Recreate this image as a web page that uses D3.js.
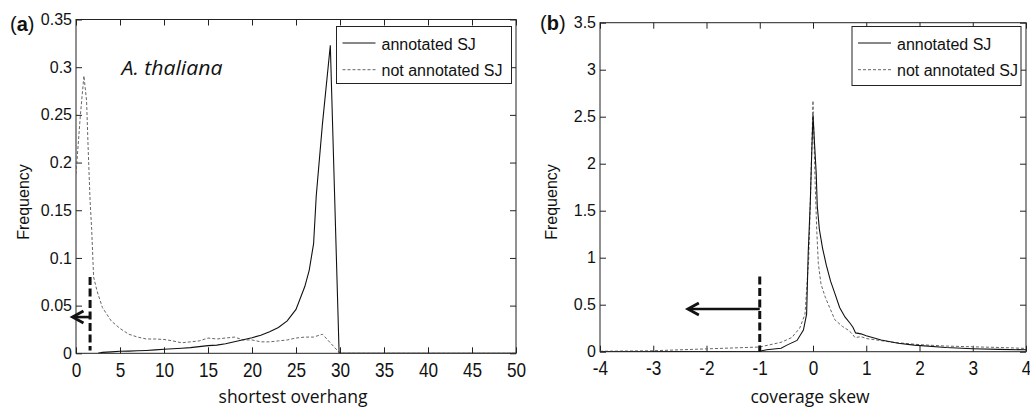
<!DOCTYPE html>
<html>
<head>
<meta charset="utf-8">
<script src="https://cdn.jsdelivr.net/npm/d3@7/dist/d3.min.js"></script>
<style>
  body { margin: 0; background: #fff; }
  svg { display: block; }
</style>
</head>
<body>
<svg id="chart" width="1030" height="408"></svg>
<script>
// ---------- Panel (a): shortest overhang ----------
const overhangTicks = [0, 5, 10, 15, 20, 25, 30, 35, 40, 45, 50];
const freqTicksA = [0, 0.05, 0.1, 0.15, 0.2, 0.25, 0.3, 0.35];
const annotA_x = [2.5, 3, 4, 5, 6, 7, 8, 9, 10, 11, 12, 13, 14, 15, 16, 17, 18, 19, 20, 21, 22, 23, 24, 25, 26, 26.5, 27, 27.3, 28, 28.9, 29.9, 50];
const annotA_y = [0, 0.001, 0.0015, 0.0022, 0.0023, 0.0026, 0.003, 0.0036, 0.0043, 0.0048, 0.0053, 0.006, 0.007, 0.008, 0.0086, 0.01, 0.0122, 0.0143, 0.0163, 0.019, 0.0225, 0.027, 0.034, 0.046, 0.07, 0.087, 0.115, 0.165, 0.24, 0.323, 0, 0];
const notAnnotA_x = [0, 0.5, 0.9, 1.2, 1.4, 1.6, 1.78, 2, 2.4, 3, 4, 5, 6, 7, 8, 9, 10, 11, 12, 13, 14, 15, 16, 17, 18, 19, 20, 21, 22, 23, 24, 25, 26, 27, 28, 29, 30, 50];
const notAnnotA_y = [0.188, 0.25, 0.291, 0.265, 0.21, 0.16, 0.13, 0.08, 0.065, 0.048, 0.034, 0.026, 0.02, 0.017, 0.015, 0.015, 0.0145, 0.013, 0.011, 0.012, 0.013, 0.016, 0.015, 0.016, 0.017, 0.014, 0.014, 0.012, 0.012, 0.013, 0.014, 0.016, 0.017, 0.017, 0.02, 0.01, 0, 0];
const cutoffA = { x: 1.6, y0: 0.003, y1: 0.08 };
const arrowA = { x0: 1.6, x1: -0.4, y: 0.038 };

// ---------- Panel (b): coverage skew ----------
const skewTicks = [-4, -3, -2, -1, 0, 1, 2, 3, 4];
const freqTicksB = [0, 0.5, 1, 1.5, 2, 2.5, 3, 3.5];
const annotB_x = [-4, -1, -0.87, -0.6, -0.49, -0.3, -0.18, -0.12, -0.09, -0.05, -0.03, 0, 0.03, 0.06, 0.08, 0.12, 0.18, 0.25, 0.33, 0.41, 0.5, 0.6, 0.7, 0.75, 0.8, 0.9, 1.0, 1.28, 1.6, 1.9, 2.5, 3.0, 3.5, 4];
const annotB_y = [0, 0.005, 0.02, 0.036, 0.07, 0.12, 0.23, 0.4, 1.05, 1.6, 2.0, 2.52, 2.2, 1.9, 1.55, 1.3, 1.1, 0.92, 0.75, 0.62, 0.47, 0.37, 0.3, 0.26, 0.2, 0.19, 0.17, 0.125, 0.09, 0.07, 0.045, 0.032, 0.025, 0.02];
const notAnnotB_x = [-4, -3, -2.5, -2, -1.5, -1, -0.6, -0.4, -0.25, -0.15, -0.08, -0.04, 0, 0.04, 0.07, 0.1, 0.15, 0.23, 0.41, 0.55, 0.66, 0.72, 0.79, 0.9, 1.0, 1.5, 2.0, 2.5, 3.0, 3.5, 4];
const notAnnotB_y = [0.005, 0.01, 0.02, 0.03, 0.04, 0.05, 0.1, 0.15, 0.25, 0.4, 1.0, 1.8, 2.67, 1.8, 1.3, 0.94, 0.72, 0.58, 0.34, 0.27, 0.23, 0.2, 0.15, 0.16, 0.14, 0.1, 0.075, 0.06, 0.052, 0.045, 0.035];
const cutoffB = { x: -1, y0: 0, y1: 0.8 };
const arrowB = { x0: -1, x1: -2.35, y: 0.454 };

const legendLabels = ["annotated SJ", "not annotated SJ"];
const SANS = "'Liberation Sans', Arial, sans-serif";
const HUMAN = "'Open Sans', Lato, sans-serif";

const svg = d3.select("#chart");

function panel(cfg) {
  const x = d3.scaleLinear().domain(cfg.xDomain).range([cfg.left, cfg.right]);
  const y = d3.scaleLinear().domain(cfg.yDomain).range([cfg.bottom, cfg.top]);
  const g = svg.append("g");
  const fmt = d => String(d);

  const bottomAx = g.append("g").attr("transform", `translate(0,${cfg.bottom})`)
    .call(d3.axisBottom(x).tickValues(cfg.xTicks).tickFormat(fmt).tickSizeInner(-6).tickSizeOuter(0).tickPadding(9.5));
  const topAx = g.append("g").attr("transform", `translate(0,${cfg.top})`)
    .call(d3.axisTop(x).tickValues(cfg.xTicks).tickFormat("").tickSizeInner(-6).tickSizeOuter(0));
  const leftAx = g.append("g").attr("transform", `translate(${cfg.left},0)`)
    .call(d3.axisLeft(y).tickValues(cfg.yTicks).tickFormat(fmt).tickSizeInner(-6).tickSizeOuter(0).tickPadding(4));
  const rightAx = g.append("g").attr("transform", `translate(${cfg.right},0)`)
    .call(d3.axisRight(y).tickValues(cfg.yTicks).tickFormat("").tickSizeInner(-6).tickSizeOuter(0));
  [bottomAx, topAx, leftAx, rightAx].forEach(a => {
    a.attr("font-size", 16).attr("font-family", SANS);
    a.select(".domain").remove();
    a.selectAll(".tick line").attr("stroke", "#222").attr("stroke-width", 1);
    a.selectAll(".tick text").attr("fill", "#111").attr("font-size", 16).attr("font-family", SANS);
  });
  bottomAx.selectAll(".tick text").attr("font-size", 20).attr("transform", "scale(0.86,1)");

  g.append("rect")
    .attr("x", cfg.left).attr("y", cfg.top)
    .attr("width", cfg.right - cfg.left).attr("height", cfg.bottom - cfg.top)
    .attr("fill", "none").attr("stroke", "#222").attr("stroke-width", 1);

  const line = d3.line().x(d => x(d[0])).y(d => y(d[1]));
  const clip = "clip-" + cfg.id;
  g.append("clipPath").attr("id", clip).append("rect")
    .attr("x", cfg.left).attr("y", cfg.top - 2)
    .attr("width", cfg.right - cfg.left).attr("height", cfg.bottom - cfg.top + 2);

  const notAnn = d3.zip(cfg.nx, cfg.ny);
  const ann = d3.zip(cfg.ax, cfg.ay);
  g.append("path").datum(notAnn).attr("d", line)
    .attr("fill", "none").attr("stroke", "#666").attr("stroke-width", 1)
    .attr("stroke-dasharray", "3,2").attr("clip-path", `url(#${clip})`);
  g.append("path").datum(ann).attr("d", line)
    .attr("fill", "none").attr("stroke", "#111").attr("stroke-width", 1.1)
    .attr("clip-path", `url(#${clip})`);

  g.append("line")
    .attr("x1", x(cfg.cutoff.x)).attr("x2", x(cfg.cutoff.x))
    .attr("y1", y(cfg.cutoff.y1)).attr("y2", y(cfg.cutoff.y0))
    .attr("stroke", "#111").attr("stroke-width", 3).attr("stroke-dasharray", "8,3.5");
  const ax0 = x(cfg.arrow.x0), ax1 = x(cfg.arrow.x1), ay = y(cfg.arrow.y);
  g.append("line").attr("x1", ax0).attr("x2", ax1 + 1).attr("y1", ay).attr("y2", ay)
    .attr("stroke", "#111").attr("stroke-width", 2.6);
  g.append("path")
    .attr("d", `M${ax1 + 11},${ay - 6} L${ax1},${ay} L${ax1 + 11},${ay + 6}`)
    .attr("fill", "none").attr("stroke", "#111").attr("stroke-width", 2.8)
    .attr("stroke-linejoin", "miter");

  const L = cfg.legend;
  const lg = g.append("g");
  lg.append("rect").attr("x", L.x).attr("y", L.y).attr("width", L.w).attr("height", L.h)
    .attr("fill", "#fff").attr("stroke", "#222").attr("stroke-width", 1);
  legendLabels.forEach((lab, i) => {
    const yy = L.y + 16.5 + i * 26.7;
    lg.append("line").attr("x1", L.x + 6).attr("x2", L.x + 39).attr("y1", yy).attr("y2", yy)
      .attr("stroke", i === 0 ? "#111" : "#666").attr("stroke-width", 1)
      .attr("stroke-dasharray", i === 0 ? null : "3,2");
    lg.append("text").attr("x", L.x + 45).attr("y", yy + 6.5)
      .attr("font-family", SANS).attr("font-size", 16)
      .attr("fill", "#111").text(lab);
  });

  g.append("text").attr("x", cfg.xTitlePos[0]).attr("y", cfg.xTitlePos[1])
    .attr("text-anchor", "middle").attr("font-family", HUMAN)
    .attr("font-size", 17.5).attr("fill", "#111").text(cfg.xTitle);
  g.append("text").attr("transform", `translate(${cfg.yTitlePos[0]},${cfg.yTitlePos[1]}) rotate(-90)`)
    .attr("text-anchor", "middle").attr("font-family", SANS)
    .attr("font-size", 16).attr("fill", "#111").text("Frequency");

  const pl = g.append("text").attr("x", cfg.letterPos[0]).attr("y", cfg.letterPos[1])
    .attr("font-family", SANS).attr("font-size", 20).attr("fill", "#111");
  pl.append("tspan").text("(");
  pl.append("tspan").attr("font-weight", "bold").text(cfg.letter);
  pl.append("tspan").text(")");
  return { g, x, y };
}

const pa = panel({
  id: "a", left: 76, right: 516, top: 19.5, bottom: 353.3,
  xDomain: [0, 50], yDomain: [0, 0.35], xTicks: overhangTicks, yTicks: freqTicksA,
  ax: annotA_x, ay: annotA_y, nx: notAnnotA_x, ny: notAnnotA_y,
  cutoff: cutoffA, arrow: arrowA,
  legend: { x: 336.5, y: 26.5, w: 175, h: 57 },
  xTitle: "shortest overhang", xTitlePos: [293, 402.5],
  yTitlePos: [29, 202], letter: "a", letterPos: [10, 31]
});
pa.g.append("text").attr("x", 121.5).attr("y", 75)
  .attr("font-family", HUMAN).attr("font-style", "italic")
  .attr("font-size", 20).attr("fill", "#111")
  .attr("textLength", 101).attr("lengthAdjust", "spacingAndGlyphs")
  .text("A. thaliana");

panel({
  id: "b", left: 600, right: 1026, top: 22.7, bottom: 351.7,
  xDomain: [-4, 4], yDomain: [0, 3.5], xTicks: skewTicks, yTicks: freqTicksB,
  ax: annotB_x, ay: annotB_y, nx: notAnnotB_x, ny: notAnnotB_y,
  cutoff: cutoffB, arrow: arrowB,
  legend: { x: 852, y: 26.5, w: 169, h: 59 },
  xTitle: "coverage skew", xTitlePos: [810, 402.5],
  yTitlePos: [557, 202], letter: "b", letterPos: [540, 30]
});
</script>
</body>
</html>
